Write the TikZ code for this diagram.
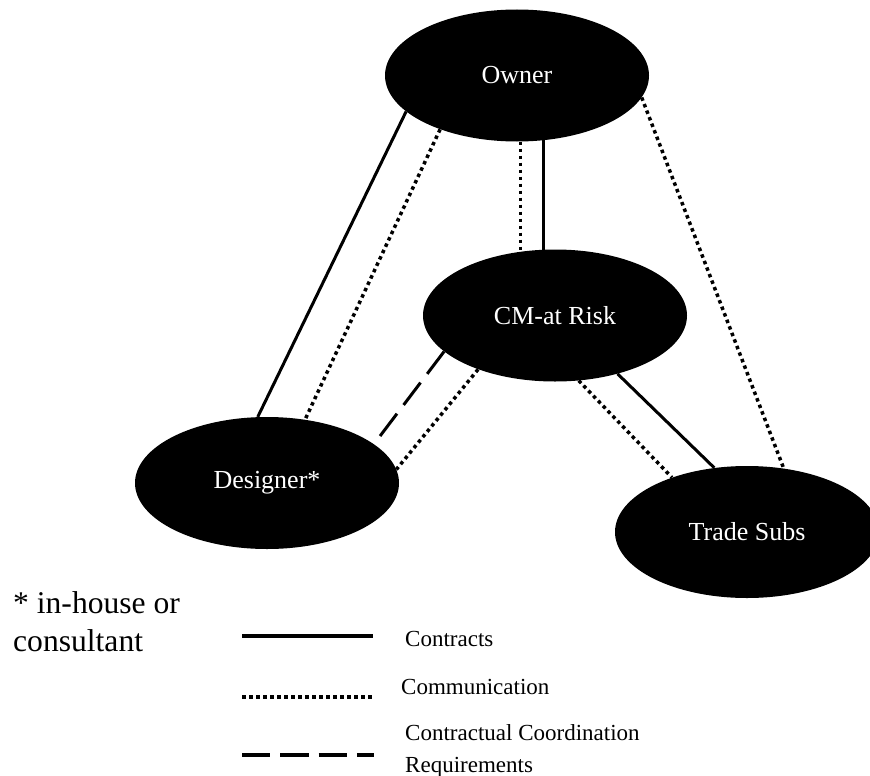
\documentclass[tikz,border=0pt]{standalone}
\usepackage{fontspec}
\setmainfont{Liberation Serif}
\usetikzlibrary{shapes.geometric,backgrounds}
\begin{document}
\begin{tikzpicture}[x=1pt,y=-1pt,
  party/.style={ellipse, fill=black, text=white, minimum width=264pt,
    minimum height=132pt, inner sep=0pt, font=\fontsize{26}{30}\selectfont},
  contract/.style={line width=3pt},
  comm/.style={line width=3.5pt, dash pattern=on 3.5pt off 3.5pt},
  coordreq/.style={line width=3pt, dash pattern=on 28pt off 11pt},
  legendtext/.style={anchor=base west, inner sep=0pt, font=\fontsize{23}{27}\selectfont},
  notetext/.style={anchor=base west, inner sep=0pt, font=\fontsize{31.6}{38}\selectfont}]
\useasboundingbox (0,0) rectangle (870,776);

% parties
\node[party] (owner)    at (517,75.5)  {Owner};
\node[party] (cm)       at (555,315.5) {CM-at Risk};
\node[party] (designer) at (267,483)   {Designer*};
\node[party] (trade)    at (747,532)   {Trade Subs};

% relationships, drawn behind the ellipses
\begin{scope}[on background layer]
  \draw[contract] (owner.198.8) -- (designer.98.6);
  \draw[comm]     (owner.215.7) -- (designer.59.7);
  \draw[comm]     (owner.273.4) -- (owner.273.4 |- cm.center);
  \draw[contract] (owner.292.1) -- (owner.292.1 |- cm.center);
  \draw[comm]     (owner.350.5) -- (trade.60.3);
  \draw[coordreq] (cm.198.7) -- (designer.20);
  \draw[comm]     (cm.215.8) -- (designer.6.8);
  \draw[comm]     (cm.290.3) -- (trade.144.5);
  \draw[contract] (cm.317.5) -- (trade.117.6);
\end{scope}

% footnote
\node[notetext] (note1) at (13,613) {* in-house or};
\node[notetext] (note2) at (13,651) {consultant};

% legend
\coordinate (la1) at (242,636); \coordinate (la2) at (373,636);
\coordinate (lb1) at (242,697); \coordinate (lb2) at (375,697);
\coordinate (lc1) at (242,755); \coordinate (lc2) at (374,755);
\draw[contract, line width=4pt] (la1) -- (la2);
\draw[comm, line width=4pt] (lb1) -- (lb2);
\draw[line width=4.5pt, dash pattern=on 28.3pt off 10pt] (lc1) -- (lc2);
\node[legendtext] (lt1) at (405,646) {Contracts};
\node[legendtext] (lt2) at (401,694) {Communication};
\node[legendtext] (lt3) at (405,740) {Contractual Coordination};
\node[legendtext] (lt4) at (405,772) {Requirements};
\end{tikzpicture}
\end{document}
